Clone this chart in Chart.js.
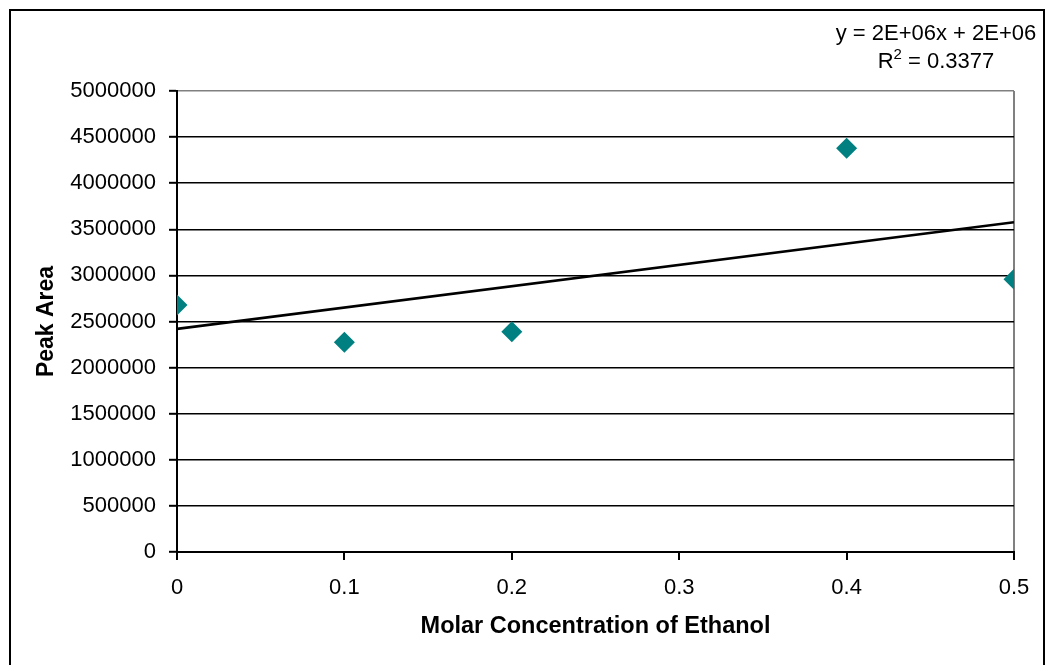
<!DOCTYPE html>
<html>
<head>
<meta charset="utf-8">
<script src="https://cdn.jsdelivr.net/npm/chart.js@4"></script>
<style>
  html, body { margin: 0; padding: 0; background: #fff; overflow: hidden; }
  #wrap { position: absolute; left: 0; top: 0; width: 1047px; height: 665px; }
  #frame { position: absolute; left: 9px; top: 9px; width: 1036px; height: 700px; border: 2px solid #000; box-sizing: border-box; pointer-events: none; }
  #eq { position: absolute; left: 826px; top: 19px; width: 220px; text-align: center; font-family: "Liberation Sans", Arial, sans-serif; font-size: 22px; line-height: 28px; color: #000; }
  #eq sup { font-size: 15px; line-height: 0; position: relative; top: -1px; }
</style>
</head>
<body>
<div id="wrap"><canvas id="c" width="1047" height="665"></canvas></div>
<div id="frame"></div>
<div id="eq">y = 2E+06x + 2E+06<br>R<sup>2</sup> = 0.3377</div>
<script>
const concentrations = [0, 0.1, 0.2, 0.4, 0.5];
const peakAreas = [2680000, 2275000, 2390000, 4378000, 2958000];
const trendX = [0, 0.5];
const trendY = [2420000, 3576000];
const xTicks = [0, 0.1, 0.2, 0.3, 0.4, 0.5];
const yTicks = [0, 500000, 1000000, 1500000, 2000000, 2500000, 3000000, 3500000, 4000000, 4500000, 5000000];
const xTitle = 'Molar Concentration of Ethanol';
const yTitle = 'Peak Area';

const FONT = '"Liberation Sans", Arial, sans-serif';

new Chart(document.getElementById('c'), {
  type: 'scatter',
  data: {
    datasets: [
      {
        label: 'Peak Area',
        data: concentrations.map((x, i) => ({ x: x, y: peakAreas[i] })),
        pointStyle: 'rectRot',
        pointRadius: 10.5,
        pointHoverRadius: 10.5,
        backgroundColor: '#008080',
        borderWidth: 0,
        order: 1
      },
      {
        label: 'Linear',
        type: 'line',
        data: trendX.map((x, i) => ({ x: x, y: trendY[i] })),
        borderColor: '#000',
        borderWidth: 2.6,
        pointRadius: 0,
        fill: false,
        order: 2
      }
    ]
  },
  options: {
    responsive: false,
    animation: false,
    devicePixelRatio: 1,
    layout: { padding: { left: 33, top: 91, right: 33, bottom: 0 } },
    plugins: { legend: { display: false }, tooltip: { enabled: false }, title: { display: false } },
    scales: {
      x: {
        type: 'linear',
        min: 0, max: 0.5,
        afterBuildTicks: s => { s.ticks = xTicks.map(v => ({ value: v })); },
        afterFit: s => { s.height = 113; },
        ticks: {
          color: '#000',
          font: { family: FONT, size: 22 },
          padding: 15,
          maxRotation: 0,
          callback: v => String(Number(v.toFixed(1)))
        },
        grid: {
          drawOnChartArea: true,
          color: ctx => (ctx.tick && ctx.tick.value === 0.5) ? '#808080' : 'rgba(0,0,0,0)',
          lineWidth: 2,
          tickColor: '#000',
          tickLength: 8,
          tickWidth: 2
        },
        border: { display: true, color: '#000', width: 2 },
        title: {
          display: true,
          text: xTitle,
          color: '#000',
          font: { family: FONT, size: 23.5, weight: 'bold' },
          padding: { top: 16, bottom: 24 }
        }
      },
      y: {
        type: 'linear',
        min: 0, max: 5000000,
        afterBuildTicks: s => { s.ticks = yTicks.map(v => ({ value: v })); },
        afterFit: s => { s.width = 144; },
        ticks: {
          color: '#000',
          font: { family: FONT, size: 22 },
          padding: 13,
          callback: v => String(v)
        },
        grid: {
          drawOnChartArea: true,
          color: ctx => (ctx.tick && ctx.tick.value === 5000000) ? '#808080' : '#000',
          lineWidth: 1.6,
          tickColor: '#000',
          tickLength: 8,
          tickWidth: 2
        },
        border: { display: true, color: '#000', width: 2 },
        title: {
          display: true,
          text: yTitle,
          color: '#000',
          font: { family: FONT, size: 23, weight: 'bold' },
          padding: { top: 0, bottom: 10 }
        }
      }
    }
  }
});
</script>
</body>
</html>
